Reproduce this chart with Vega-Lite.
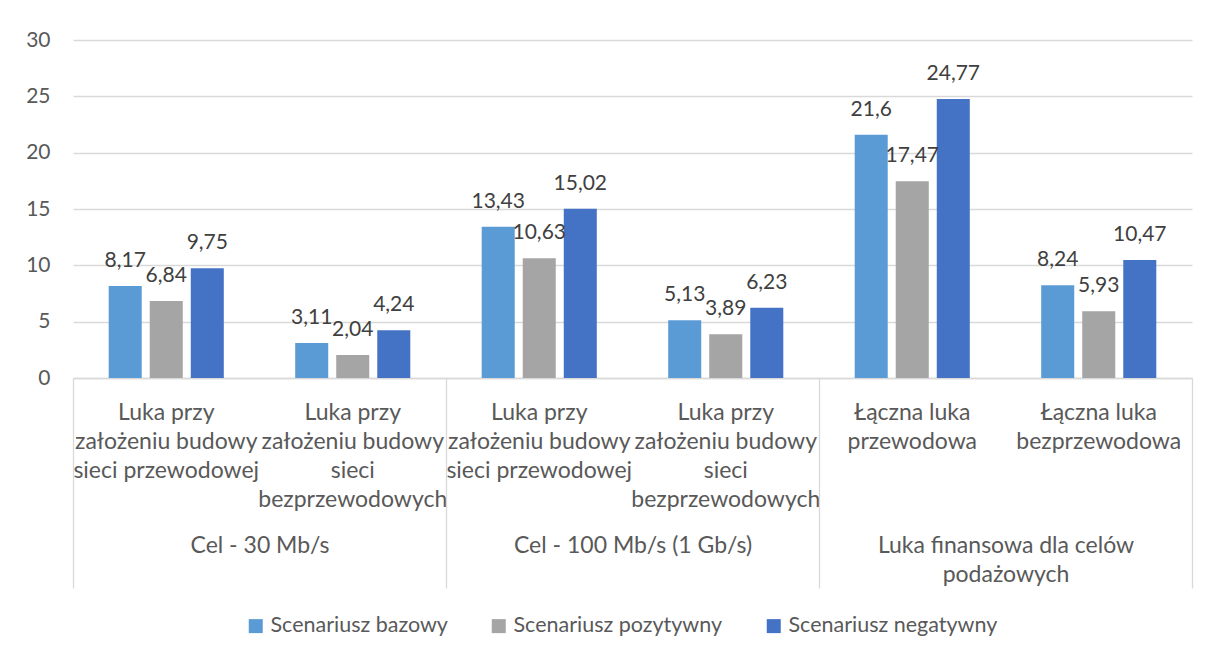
{
  "$schema": "https://vega.github.io/schema/vega-lite/v6.json",
  "width": 1119,
  "height": 338,
  "autosize": {"type": "none"},
  "padding": {"left": 73, "top": 40, "right": 27, "bottom": 277},
  "background": "white",
  "data": {
    "values": [
      {"grupa": "Cel - 30 Mb/s", "kategoria": "Cel - 30 Mb/s|Luka przy|założeniu budowy|sieci przewodowej", "scenariusz": "Scenariusz bazowy", "wartosc": 8.17},
      {"grupa": "Cel - 30 Mb/s", "kategoria": "Cel - 30 Mb/s|Luka przy|założeniu budowy|sieci przewodowej", "scenariusz": "Scenariusz pozytywny", "wartosc": 6.84},
      {"grupa": "Cel - 30 Mb/s", "kategoria": "Cel - 30 Mb/s|Luka przy|założeniu budowy|sieci przewodowej", "scenariusz": "Scenariusz negatywny", "wartosc": 9.75},
      {"grupa": "Cel - 30 Mb/s", "kategoria": "Cel - 30 Mb/s|Luka przy|założeniu budowy|sieci|bezprzewodowych", "scenariusz": "Scenariusz bazowy", "wartosc": 3.11},
      {"grupa": "Cel - 30 Mb/s", "kategoria": "Cel - 30 Mb/s|Luka przy|założeniu budowy|sieci|bezprzewodowych", "scenariusz": "Scenariusz pozytywny", "wartosc": 2.04},
      {"grupa": "Cel - 30 Mb/s", "kategoria": "Cel - 30 Mb/s|Luka przy|założeniu budowy|sieci|bezprzewodowych", "scenariusz": "Scenariusz negatywny", "wartosc": 4.24},
      {"grupa": "Cel - 100 Mb/s (1 Gb/s)", "kategoria": "Cel - 100 Mb/s (1 Gb/s)|Luka przy|założeniu budowy|sieci przewodowej", "scenariusz": "Scenariusz bazowy", "wartosc": 13.43},
      {"grupa": "Cel - 100 Mb/s (1 Gb/s)", "kategoria": "Cel - 100 Mb/s (1 Gb/s)|Luka przy|założeniu budowy|sieci przewodowej", "scenariusz": "Scenariusz pozytywny", "wartosc": 10.63},
      {"grupa": "Cel - 100 Mb/s (1 Gb/s)", "kategoria": "Cel - 100 Mb/s (1 Gb/s)|Luka przy|założeniu budowy|sieci przewodowej", "scenariusz": "Scenariusz negatywny", "wartosc": 15.02},
      {"grupa": "Cel - 100 Mb/s (1 Gb/s)", "kategoria": "Cel - 100 Mb/s (1 Gb/s)|Luka przy|założeniu budowy|sieci|bezprzewodowych", "scenariusz": "Scenariusz bazowy", "wartosc": 5.13},
      {"grupa": "Cel - 100 Mb/s (1 Gb/s)", "kategoria": "Cel - 100 Mb/s (1 Gb/s)|Luka przy|założeniu budowy|sieci|bezprzewodowych", "scenariusz": "Scenariusz pozytywny", "wartosc": 3.89},
      {"grupa": "Cel - 100 Mb/s (1 Gb/s)", "kategoria": "Cel - 100 Mb/s (1 Gb/s)|Luka przy|założeniu budowy|sieci|bezprzewodowych", "scenariusz": "Scenariusz negatywny", "wartosc": 6.23},
      {"grupa": "Luka finansowa dla celów podażowych", "kategoria": "Luka finansowa|Łączna luka|przewodowa", "scenariusz": "Scenariusz bazowy", "wartosc": 21.6},
      {"grupa": "Luka finansowa dla celów podażowych", "kategoria": "Luka finansowa|Łączna luka|przewodowa", "scenariusz": "Scenariusz pozytywny", "wartosc": 17.47},
      {"grupa": "Luka finansowa dla celów podażowych", "kategoria": "Luka finansowa|Łączna luka|przewodowa", "scenariusz": "Scenariusz negatywny", "wartosc": 24.77},
      {"grupa": "Luka finansowa dla celów podażowych", "kategoria": "Luka finansowa|Łączna luka|bezprzewodowa", "scenariusz": "Scenariusz bazowy", "wartosc": 8.24},
      {"grupa": "Luka finansowa dla celów podażowych", "kategoria": "Luka finansowa|Łączna luka|bezprzewodowa", "scenariusz": "Scenariusz pozytywny", "wartosc": 5.93},
      {"grupa": "Luka finansowa dla celów podażowych", "kategoria": "Luka finansowa|Łączna luka|bezprzewodowa", "scenariusz": "Scenariusz negatywny", "wartosc": 10.47}
    ]
  },
  "layer": [
    {
      "encoding": {
        "x": {
          "field": "kategoria", "type": "nominal", "sort": null,
          "scale": {"paddingInner": 0, "paddingOuter": 0},
          "axis": {
            "orient": "bottom", "title": null,
            "domain": true, "domainColor": "#D9D9D9", "domainWidth": 1.3,
            "ticks": false, "grid": false,
            "labelExpr": "slice(split(datum.value, '|'), 1)",
            "labelAngle": 0, "labelAlign": "center", "labelBaseline": "top",
            "labelFontSize": 23, "labelLineHeight": 29, "labelPadding": 23,
            "labelLimit": 400, "labelOverlap": false, "labelColor": "#595959", "labelFont": "Lato"
          }
        },
        "xOffset": {
          "field": "scenariusz", "type": "nominal",
          "sort": ["Scenariusz bazowy", "Scenariusz pozytywny", "Scenariusz negatywny"],
          "scale": {"paddingInner": 0.195, "paddingOuter": 0.87}
        },
        "y": {
          "field": "wartosc", "type": "quantitative",
          "scale": {"domain": [0, 30], "nice": false},
          "axis": {
            "title": null, "values": [0, 5, 10, 15, 20, 25, 30],
            "domain": false, "ticks": false,
            "grid": true, "gridColor": "#D9D9D9", "gridWidth": 1.3,
            "labelPadding": 23, "labelFontSize": 21, "labelColor": "#595959", "labelFont": "Lato"
          }
        }
      },
      "layer": [
        {
          "mark": {"type": "bar"},
          "encoding": {
            "color": {
              "field": "scenariusz", "type": "nominal",
              "scale": {
                "domain": ["Scenariusz bazowy", "Scenariusz pozytywny", "Scenariusz negatywny"],
                "range": ["#5B9BD5", "#A5A5A5", "#4472C4"]
              },
              "legend": {
                "title": null, "orient": "none", "direction": "horizontal",
                "legendX": 172, "legendY": 575, "padding": 0,
                "symbolType": "square", "symbolSize": 196, "symbolStrokeWidth": 0,
                "labelFontSize": 21.5, "labelColor": "#595959", "labelFont": "Lato",
                "labelLimit": 400, "labelOffset": 4, "columnPadding": 40
              }
            }
          }
        },
        {
          "mark": {"type": "text", "baseline": "alphabetic", "align": "center", "dy": -19, "fontSize": 21, "font": "Lato", "color": "#404040"},
          "encoding": {
            "text": {"field": "wartosc", "type": "quantitative", "format": "~g"}
          }
        }
      ]
    },
    {
      "mark": {"type": "point", "opacity": 0},
      "encoding": {
        "x": {
          "field": "grupa", "type": "nominal", "sort": null,
          "scale": {"paddingInner": 0, "paddingOuter": 0},
          "axis": {
            "orient": "bottom", "title": null, "domain": false, "grid": false,
            "ticks": true, "tickBand": "extent", "tickSize": 210, "tickColor": "#D9D9D9", "tickWidth": 1.3,
            "labelExpr": "datum.value == 'Luka finansowa dla celów podażowych' ? ['Luka finansowa dla celów', 'podażowych'] : datum.value",
            "labelAngle": 0, "labelAlign": "center", "labelBaseline": "top",
            "labelFontSize": 23, "labelLineHeight": 29, "labelPadding": -54,
            "labelLimit": 400, "labelOverlap": false, "labelColor": "#595959", "labelFont": "Lato"
          }
        }
      }
    }
  ],
  "resolve": {"scale": {"x": "independent"}, "axis": {"x": "independent"}},
  "config": {
    "font": "Lato",
    "view": {"stroke": null},
    "locale": {
      "number": {"decimal": ",", "thousands": " ", "grouping": [3], "currency": ["", " zł"]}
    }
  }
}
